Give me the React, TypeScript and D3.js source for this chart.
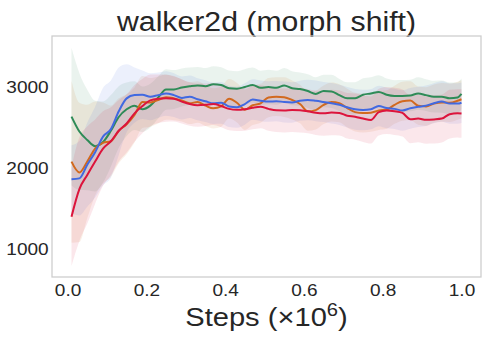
import React, { useEffect, useRef } from 'react';
import * as d3 from 'd3';

// training steps (x 10^6)
const steps = [
  0.01, 0.03, 0.05, 0.07, 0.09, 0.11, 0.13, 0.15, 0.17, 0.19, 0.21, 0.23, 0.25, 0.27, 0.29, 0.31, 0.33,
  0.35, 0.37, 0.39, 0.41, 0.43, 0.45, 0.47, 0.49, 0.51, 0.53, 0.55, 0.57, 0.59, 0.61, 0.63, 0.65, 0.67,
  0.69, 0.71, 0.73, 0.75, 0.77, 0.79, 0.81, 0.83, 0.85, 0.87, 0.89, 0.91, 0.93, 0.95, 0.97, 0.99, 1.0
];

const greenMean = [
  2634, 2450, 2346, 2270, 2320, 2460, 2630, 2725, 2770, 2725, 2770, 2870, 2970, 2970, 2995, 3010, 3020,
  3010, 3035, 3025, 2985, 2980, 3000, 3025, 2990, 3000, 2990, 3020, 2985, 2975, 2950, 2915, 2950, 2945,
  2900, 2860, 2860, 2905, 2920, 2940, 2905, 2890, 2889, 2895, 2920, 2900, 2881, 2881, 2860, 2870, 2914
];
const greenStd = [
  850, 720, 620, 560, 500, 440, 380, 330, 300, 280, 270, 260, 250, 240, 235, 230, 228, 225, 222, 220,
  218, 215, 220, 215, 210, 212, 210, 215, 210, 205, 208, 205, 200, 205, 200, 198, 200, 202, 200, 205,
  200, 195, 198, 195, 200, 195, 195, 198, 195, 190, 190
];

const orangeMean = [
  2078, 1945, 2080, 2240, 2310, 2330, 2460, 2540, 2655, 2815, 2810, 2840, 2875, 2860, 2835, 2800, 2815,
  2770, 2737, 2760, 2855, 2806, 2720, 2775, 2799, 2870, 2881, 2875, 2840, 2790, 2700, 2715, 2780, 2815,
  2800, 2740, 2690, 2678, 2683, 2710, 2722, 2780, 2825, 2832, 2770, 2760, 2795, 2810, 2805, 2830, 2849
];
const orangeStd = [
  1000, 860, 700, 580, 500, 440, 400, 370, 340, 320, 300, 290, 280, 270, 262, 258, 255, 250, 248, 250,
  245, 245, 250, 245, 240, 242, 240, 245, 240, 238, 240, 240, 238, 240, 235, 240, 238, 240, 235, 240,
  238, 235, 240, 238, 235, 238, 235, 240, 238, 235, 235
];

const blueMean = [
  1860, 1872, 2040, 2195, 2387, 2480, 2700, 2860, 2900, 2905, 2880, 2900, 2920, 2900, 2865, 2880, 2849,
  2825, 2799, 2805, 2760, 2750, 2790, 2845, 2830, 2820, 2825, 2815, 2810, 2830, 2840, 2830, 2815, 2799,
  2780, 2750, 2725, 2716, 2725, 2766, 2740, 2730, 2710, 2737, 2755, 2770, 2800, 2820, 2795, 2795, 2806
];
const blueStd = [
  420, 460, 520, 560, 600, 600, 540, 420, 340, 300, 290, 280, 275, 270, 265, 262, 260, 258, 255, 258,
  255, 252, 255, 250, 252, 250, 248, 252, 250, 248, 250, 252, 248, 250, 248, 250, 252, 250, 248, 250,
  250, 248, 250, 252, 248, 250, 248, 250, 248, 250, 250
];

const redMean = [
  1399, 1740, 1914, 2080, 2240, 2330, 2460, 2550, 2675, 2765, 2835, 2855, 2860, 2855, 2820, 2790, 2775,
  2780, 2790, 2766, 2730, 2718, 2725, 2745, 2757, 2730, 2712, 2710, 2716, 2712, 2700, 2682, 2675, 2685,
  2680, 2645, 2634, 2610, 2593, 2690, 2710, 2700, 2680, 2602, 2610, 2595, 2600, 2610, 2665, 2675, 2672
];
const redStd = [
  610, 640, 600, 520, 460, 420, 380, 360, 350, 335, 320, 300, 290, 280, 272, 268, 265, 262, 260, 262,
  265, 262, 265, 268, 265, 270, 268, 272, 270, 275, 272, 275, 278, 280, 278, 282, 285, 288, 290, 288,
  290, 292, 290, 295, 292, 295, 298, 295, 300, 298, 300
];

const seriesNames = ['green', 'orange', 'blue', 'red'];
const seriesColors = ['seagreen', 'chocolate', 'royalblue', 'crimson'];
const seriesMeans = [greenMean, orangeMean, blueMean, redMean];
const seriesStds = [greenStd, orangeStd, blueStd, redStd];

const xTicks = [0, 0.2, 0.4, 0.6, 0.8, 1.0];
const yTicks = [1000, 2000, 3000];

const font = '"Liberation Sans", Arial, sans-serif';
// the original figure is a little wider than tall, text comes out stretched
const stretch = 1.12;

export default function App() {
  const xAxisRef = useRef<SVGGElement>(null);
  const yAxisRef = useRef<SVGGElement>(null);

  const width = 488,
    height = 342;
  const margin = { top: 36, right: 7, bottom: 65, left: 52 };
  const plotW = width - margin.left - margin.right,
    plotH = height - margin.top - margin.bottom;

  const x = d3.scaleLinear().domain([-0.0395, 1.0495]).range([0, plotW]);
  const y = d3.scaleLinear().domain([654, 3630]).range([plotH, 0]);

  useEffect(() => {
    const xAxis = d3
      .axisBottom(x)
      .tickValues(xTicks)
      .tickFormat(d3.format('.1f'))
      .tickSize(0)
      .tickPadding(7);
    const yAxis = d3
      .axisLeft(y)
      .tickValues(yTicks)
      .tickFormat(d3.format('d'))
      .tickSize(0)
      .tickPadding(3);

    const gx = d3.select(xAxisRef.current);
    gx.selectAll('*').remove();
    gx.call(xAxis);
    gx.select('.domain').remove();
    gx.selectAll('text')
      .attr('transform', `scale(${stretch},1)`)
      .style('font-size', '17px')
      .style('font-family', font)
      .style('fill', '#262626');

    const gy = d3.select(yAxisRef.current);
    gy.selectAll('*').remove();
    gy.call(yAxis);
    gy.select('.domain').remove();
    gy.selectAll('text')
      .attr('transform', `scale(${stretch},1)`)
      .style('font-size', '17px')
      .style('font-family', font)
      .style('fill', '#262626');
  }, []);

  const line = (means: number[]) =>
    d3
      .line<number>()
      .x((_, i) => x(steps[i]))
      .y(d => y(d))
      .curve(d3.curveMonotoneX)(means);

  const band = (means: number[], stds: number[]) =>
    d3
      .area<number>()
      .x((_, i) => x(steps[i]))
      .y0((d, i) => y(d - stds[i]))
      .y1((d, i) => y(d + stds[i]))
      .curve(d3.curveMonotoneX)(means);

  return (
    <svg width={width} height={height} style={{ position: 'absolute', left: 0, top: 0, background: '#fff' }}>
      <text
        transform={`translate(${margin.left + plotW / 2},31) scale(${stretch},1)`}
        textAnchor="middle"
        style={{ fontSize: 27, fontFamily: font, fill: '#262626' }}
      >
        walker2d (morph shift)
      </text>
      <g transform={`translate(${margin.left},${margin.top})`}>
        <defs>
          <clipPath id="plotClip">
            <rect x={0} y={0} width={plotW} height={plotH} />
          </clipPath>
        </defs>
        <g clipPath="url(#plotClip)">
          {seriesNames.map((name, i) => (
            <path
              key={'band-' + name}
              d={band(seriesMeans[i], seriesStds[i]) || ''}
              fill={seriesColors[i]}
              fillOpacity={0.1}
              stroke="none"
            />
          ))}
          {seriesNames.map((name, i) => (
            <path
              key={'line-' + name}
              d={line(seriesMeans[i]) || ''}
              fill="none"
              stroke={seriesColors[i]}
              strokeWidth={2}
              strokeLinejoin="round"
            />
          ))}
        </g>
        <rect x={0} y={0} width={plotW} height={plotH} fill="none" stroke="#cccccc" strokeWidth={1.25} />
        <g ref={xAxisRef} transform={`translate(0,${plotH})`} />
        <g ref={yAxisRef} />
      </g>
      <text
        transform={`translate(${margin.left + plotW / 2},326) scale(${stretch},1)`}
        textAnchor="middle"
        style={{ fontSize: 26, fontFamily: font, fill: '#262626' }}
      >
        Steps (×10
        <tspan dy={-10} style={{ fontSize: 18 }}>
          6
        </tspan>
        <tspan dy={10}>)</tspan>
      </text>
    </svg>
  );
}
